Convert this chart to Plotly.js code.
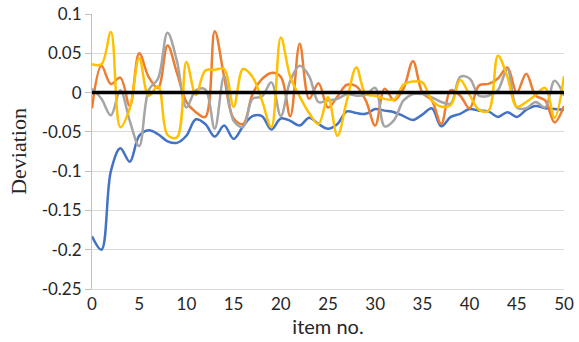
<!DOCTYPE html>
<html>
<head>
<meta charset="utf-8">
<script src="https://cdn.plot.ly/plotly-3.0.1.min.js"></script>
<style>html,body{margin:0;padding:0;background:#fff;}#chart{width:579px;height:342px;}</style>
</head>
<body>
<div id="chart"></div>
<script>
const items = Array.from({length: 51}, (_, i) => i);

const seriesBlue = [-0.183,-0.2,-0.1,-0.071,-0.088,-0.055,-0.048,-0.053,-0.062,-0.064,
  -0.055,-0.034,-0.04,-0.056,-0.042,-0.059,-0.043,-0.03,-0.03,-0.047,
  -0.033,-0.036,-0.042,-0.032,-0.04,-0.046,-0.04,-0.024,-0.026,-0.027,
  -0.021,-0.023,-0.025,-0.03,-0.035,-0.028,-0.02,-0.043,-0.031,-0.027,
  -0.021,-0.023,-0.024,-0.031,-0.025,-0.031,-0.022,-0.017,-0.02,-0.021,-0.022];

const seriesOrange = [-0.02,0.034,0.011,0.019,-0.017,0.05,0.02,0.006,0.06,0.025,
  -0.012,-0.025,-0.031,0.078,0.02,-0.033,-0.04,-0.002,0.017,0.025,
  0.02,-0.03,0.062,-0.008,0.012,-0.019,-0.005,0.01,0.008,-0.01,
  -0.042,0.005,-0.01,0.005,0.04,0,-0.01,-0.04,0.003,-0.004,
  -0.02,0.009,0.011,0.018,0.032,0,0.024,-0.004,-0.01,-0.038,-0.017];

const seriesGray = [0.005,-0.008,-0.029,0.003,-0.036,-0.068,0.003,0.018,0.076,0.04,
  -0.019,0.003,0.004,-0.046,0.021,-0.036,-0.044,-0.008,-0.005,0.013,
  -0.03,0.015,0.034,0.021,-0.012,-0.01,-0.008,-0.002,-0.004,-0.003,
  0.006,-0.043,-0.035,-0.01,-0.002,-0.002,-0.006,-0.012,-0.014,0.02,
  0.018,-0.004,-0.004,0.003,0.03,-0.019,-0.02,-0.012,-0.019,0.015,-0.004];

const seriesYellow = [0.036,0.036,0.077,-0.044,-0.02,0.044,-0.004,0.008,-0.054,-0.057,
  0.039,-0.003,0.028,0.029,0.03,-0.018,0.03,0.02,-0.01,-0.044,
  0.07,0.02,-0.005,-0.026,-0.04,-0.006,-0.055,-0.01,0.032,-0.002,
  -0.004,-0.008,-0.009,0.01,0.014,0.013,-0.01,-0.018,-0.016,0.016,
  -0.003,-0.022,-0.023,0.047,0.02,-0.018,-0.012,-0.003,0.006,-0.032,0.021];

const seriesZero = items.map(() => 0);

const yTickVals = [0.1,0.05,0,-0.05,-0.1,-0.15,-0.2,-0.25];
const yTickText = ['0.1','0.05','0','-0.05','-0.1','-0.15','-0.2','-0.25'];
const xTickVals = [0,5,10,15,20,25,30,35,40,45,50];

function tr(y, color, width, shape) {
  return {x: items, y: y, type: 'scatter', mode: 'lines',
    line: {color: color, width: width, shape: shape, smoothing: 1},
    hoverinfo: 'skip', showlegend: false};
}

const data = [
  tr(seriesBlue, '#4472C4', 2.5, 'spline'),
  tr(seriesOrange, '#ED7D31', 2.5, 'spline'),
  tr(seriesGray, '#A5A5A5', 2.5, 'spline'),
  tr(seriesYellow, '#FFC000', 2.5, 'spline'),
  tr(seriesZero, '#000000', 3.5, 'linear')
];

const sans = 'Lato, "Open Sans", sans-serif';

const layout = {
  width: 579, height: 342,
  margin: {l: 92, r: 15, t: 14, b: 53},
  paper_bgcolor: '#ffffff', plot_bgcolor: '#ffffff',
  font: {family: sans, size: 17, color: '#262626'},
  xaxis: {
    range: [0, 50], tickvals: xTickVals, ticktext: xTickVals.map(String),
    showgrid: false, zeroline: false, automargin: false,
    showline: true, linecolor: '#d9d9d9', linewidth: 1,
    ticks: '',
    tickfont: {family: sans, size: 17, color: '#262626'},
    title: {text: 'item no.', font: {family: sans, size: 20, color: '#262626'}, standoff: 6}
  },
  yaxis: {
    range: [-0.25, 0.1], tickvals: yTickVals, ticktext: yTickText,
    showgrid: true, gridcolor: '#d9d9d9', gridwidth: 1,
    zeroline: false, automargin: false,
    showline: true, linecolor: '#bfbfbf', linewidth: 1,
    ticks: 'outside', ticklen: 6, tickcolor: '#bfbfbf',
    tickfont: {family: sans, size: 17, color: '#262626'},
    title: {text: 'Deviation', font: {family: '"Liberation Serif", "Times New Roman", serif', size: 22, color: '#262626'}, standoff: 8}
  }
};

Plotly.newPlot('chart', data, layout, {staticPlot: true, displayModeBar: false});
</script>
</body>
</html>
